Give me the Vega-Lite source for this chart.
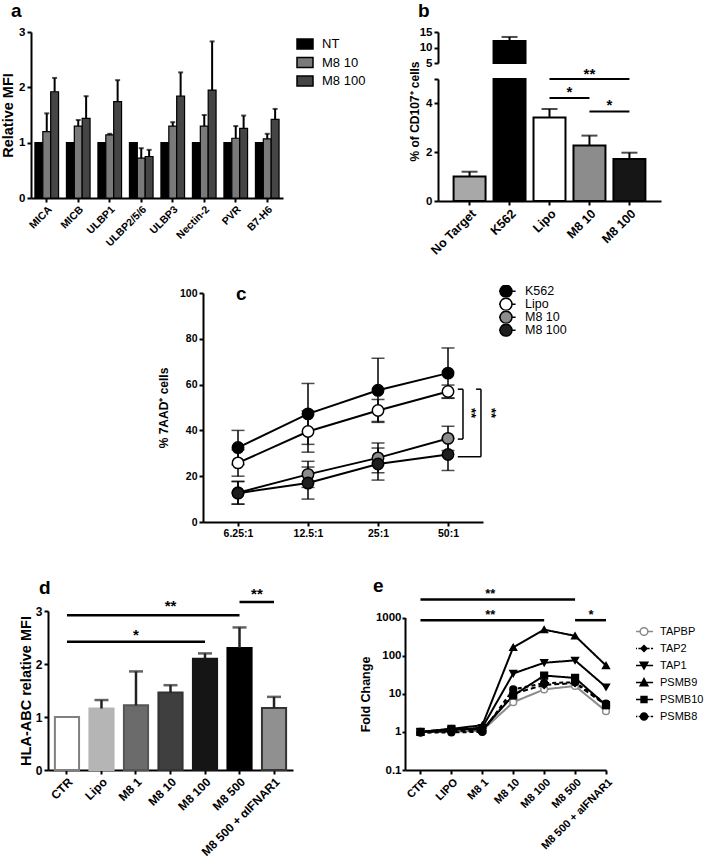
{
 "$schema": "https://vega.github.io/schema/vega-lite/v6.json",
 "padding": {"left": 0, "top": 2, "right": 2, "bottom": 2},
 "background": "white",
 "config": {
  "view": {"stroke": null},
  "font": "Liberation Sans",
  "axis": {"domainColor": "black", "domainWidth": 2, "tickColor": "black", "tickWidth": 2, "tickSize": 4, "labelColor": "black", "labelFontWeight": "bold", "labelFontSize": 11, "labelPadding": 2, "titleColor": "black", "titleFontWeight": "bold", "titleFontSize": 13, "grid": false},
  "legend": {"labelColor": "black", "labelFontSize": 13, "labelFont": "Liberation Sans"},
  "title": {"color": "black", "fontWeight": "bold", "fontSize": 19, "anchor": "start", "frame": "group", "font": "Liberation Sans"}
 },
 "datasets": {
  "a": [
   {"gene":"MICA","cond":"NT","v":1.0},{"gene":"MICA","cond":"M8 10","v":1.2,"e":1.53},{"gene":"MICA","cond":"M8 100","v":1.92,"e":2.17},
   {"gene":"MICB","cond":"NT","v":1.0},{"gene":"MICB","cond":"M8 10","v":1.3,"e":1.41},{"gene":"MICB","cond":"M8 100","v":1.44,"e":1.84},
   {"gene":"ULBP1","cond":"NT","v":1.0},{"gene":"ULBP1","cond":"M8 10","v":1.14,"e":1.16},{"gene":"ULBP1","cond":"M8 100","v":1.74,"e":2.13},
   {"gene":"ULBP2/5/6","cond":"NT","v":1.0},{"gene":"ULBP2/5/6","cond":"M8 10","v":0.72,"e":0.9},{"gene":"ULBP2/5/6","cond":"M8 100","v":0.75,"e":0.87},
   {"gene":"ULBP3","cond":"NT","v":1.0},{"gene":"ULBP3","cond":"M8 10","v":1.3,"e":1.37},{"gene":"ULBP3","cond":"M8 100","v":1.84,"e":2.27},
   {"gene":"Nectin-2","cond":"NT","v":1.0},{"gene":"Nectin-2","cond":"M8 10","v":1.3,"e":1.5},{"gene":"Nectin-2","cond":"M8 100","v":1.95,"e":2.83},
   {"gene":"PVR","cond":"NT","v":1.0},{"gene":"PVR","cond":"M8 10","v":1.08,"e":1.3},{"gene":"PVR","cond":"M8 100","v":1.26,"e":1.49},
   {"gene":"B7-H6","cond":"NT","v":1.0},{"gene":"B7-H6","cond":"M8 10","v":1.07,"e":1.16},{"gene":"B7-H6","cond":"M8 100","v":1.42,"e":1.61}
  ],
  "b": [
   {"cat":"No Target","v":1.0,"hi":1.2},{"cat":"K562","v":12.1,"hi":13.4},{"cat":"Lipo","v":3.42,"hi":3.77},{"cat":"M8 10","v":2.27,"hi":2.68},{"cat":"M8 100","v":1.72,"hi":1.98}
  ],
  "bsig": [{"from":"Lipo","to":"M8 100","y":5.05},{"from":"Lipo","to":"M8 10","y":4.22},{"from":"M8 10","to":"M8 100","y":3.67}],
  "bstar2": [{"at":"M8 10","y":5.1,"t":"**"}],
  "bstar1": [{"at":"Lipo","y":4.27,"t":"*"},{"at":"M8 10","y":3.72,"t":"*"}],
  "c": [
   {"s":"K562","et":6.25,"m":32.5,"lo":25,"hi":40},{"s":"K562","et":12.5,"m":47.2,"lo":33.9,"hi":60.5},{"s":"K562","et":25,"m":57.5,"lo":43.5,"hi":71.5},{"s":"K562","et":50,"m":65,"lo":54,"hi":76},
   {"s":"Lipo","et":6.25,"m":25.8,"lo":20,"hi":31.6},{"s":"Lipo","et":12.5,"m":39.5,"lo":30.5,"hi":48.5},{"s":"Lipo","et":25,"m":48.7,"lo":43.9,"hi":53.5},{"s":"Lipo","et":50,"m":57,"lo":54.2,"hi":59.8},
   {"s":"M8 10","et":6.25,"m":12.8,"lo":7.8,"hi":17.8},{"s":"M8 10","et":12.5,"m":20.8,"lo":15.1,"hi":26.5},{"s":"M8 10","et":25,"m":28,"lo":21.5,"hi":34.5},{"s":"M8 10","et":50,"m":36.5,"lo":31.2,"hi":41.8},
   {"s":"M8 100","et":6.25,"m":12.6,"lo":7.8,"hi":17.6},{"s":"M8 100","et":12.5,"m":17,"lo":10,"hi":24},{"s":"M8 100","et":25,"m":25.3,"lo":18.3,"hi":32.3},{"s":"M8 100","et":50,"m":29.5,"lo":22.5,"hi":36.5}
  ],
  "cbr": [
   {"x":55.1,"x2":58.0,"y":58,"y2":58},{"x":58.0,"x2":58.0,"y":58,"y2":36.2},{"x":55.1,"x2":58.0,"y":36.2,"y2":36.2},
   {"x":66.0,"x2":69.3,"y":58,"y2":58},{"x":69.3,"x2":69.3,"y":58,"y2":28.5},{"x":55.1,"x2":69.3,"y":28.5,"y2":28.5}
  ],
  "cstar": [{"x":62.5,"y":47.6,"t":"**"},{"x":76.5,"y":47.6,"t":"**"}],
  "d": [
   {"cat":"CTR","v":1.0},{"cat":"Lipo","v":1.16,"hi":1.32},{"cat":"M8 1","v":1.22,"hi":1.86},{"cat":"M8 10","v":1.46,"hi":1.6},{"cat":"M8 100","v":2.1,"hi":2.2},{"cat":"M8 500","v":2.3,"hi":2.69},{"cat":"M8 500 + αIFNAR1","v":1.17,"hi":1.38}
  ],
  "dsig": [{"from":"CTR","to":"M8 100","y":2.42},{"from":"CTR","to":"M8 500","y":2.92},{"from":"M8 500","to":"M8 500 + αIFNAR1","y":3.17}],
  "dstar": [{"at":"M8 1","y":2.46,"t":"*"},{"at":"M8 10","y":3.0,"t":"**"}],
  "dstar2": [{"at":"M8 500","y":3.22,"t":"**"}],
  "e": [
   {"g":"TAPBP","cond":"CTR","v":1.0},{"g":"TAPBP","cond":"LIPO","v":1.0},{"g":"TAPBP","cond":"M8 1","v":1.08},{"g":"TAPBP","cond":"M8 10","v":6},{"g":"TAPBP","cond":"M8 100","v":13},{"g":"TAPBP","cond":"M8 500","v":16},{"g":"TAPBP","cond":"M8 500 + aIFNAR1","v":3.5},
   {"g":"TAP2","cond":"CTR","v":0.98},{"g":"TAP2","cond":"LIPO","v":1.05},{"g":"TAP2","cond":"M8 1","v":1.1},{"g":"TAP2","cond":"M8 10","v":10},{"g":"TAP2","cond":"M8 100","v":17},{"g":"TAP2","cond":"M8 500","v":19},{"g":"TAP2","cond":"M8 500 + aIFNAR1","v":5},
   {"g":"TAP1","cond":"CTR","v":1.0},{"g":"TAP1","cond":"LIPO","v":1.1},{"g":"TAP1","cond":"M8 1","v":1.3},{"g":"TAP1","cond":"M8 10","v":34},{"g":"TAP1","cond":"M8 100","v":65},{"g":"TAP1","cond":"M8 500","v":75},{"g":"TAP1","cond":"M8 500 + aIFNAR1","v":15},
   {"g":"PSMB9","cond":"CTR","v":1.0},{"g":"PSMB9","cond":"LIPO","v":1.2},{"g":"PSMB9","cond":"M8 1","v":1.5},{"g":"PSMB9","cond":"M8 10","v":165},{"g":"PSMB9","cond":"M8 100","v":480},{"g":"PSMB9","cond":"M8 500","v":330},{"g":"PSMB9","cond":"M8 500 + aIFNAR1","v":55},
   {"g":"PSMB10","cond":"CTR","v":1.0},{"g":"PSMB10","cond":"LIPO","v":1.2},{"g":"PSMB10","cond":"M8 1","v":1.15},{"g":"PSMB10","cond":"M8 10","v":9},{"g":"PSMB10","cond":"M8 100","v":30},{"g":"PSMB10","cond":"M8 500","v":26},{"g":"PSMB10","cond":"M8 500 + aIFNAR1","v":5},
   {"g":"PSMB8","cond":"CTR","v":0.95},{"g":"PSMB8","cond":"LIPO","v":0.97},{"g":"PSMB8","cond":"M8 1","v":1.0},{"g":"PSMB8","cond":"M8 10","v":13},{"g":"PSMB8","cond":"M8 100","v":19},{"g":"PSMB8","cond":"M8 500","v":20},{"g":"PSMB8","cond":"M8 500 + aIFNAR1","v":5.5}
  ],
  "esig": [{"from":"CTR","to":"M8 500","y":2960},{"from":"CTR","to":"M8 100","y":850},{"from":"M8 500","to":"M8 500 + aIFNAR1","y":850}],
  "estar": [{"at":"M8 1","y":3300,"t":"**"},{"at":"M8 1","y":900,"t":"**"}],
  "estar2": [{"at":"M8 500","y":900,"t":"*"}]
 },
 "spacing": 0,
 "resolve": {"scale": {"fill": "independent", "stroke": "independent", "shape": "independent", "strokeDash": "independent"}},
 "vconcat": [
  {
   "hconcat": [
    {
     "title": {"text": "a", "dx": -20, "offset": 5},
     "width": 252, "height": 166,
     "data": {"name": "a"},
     "encoding": {
      "x": {"field": "gene", "type": "nominal", "scale": {"domain": ["MICA","MICB","ULBP1","ULBP2/5/6","ULBP3","Nectin-2","PVR","B7-H6"], "paddingInner": 0.25, "paddingOuter": 0.125}, "axis": {"title": null, "labelAngle": -45, "labelFontSize": 10.5}},
      "xOffset": {"field": "cond", "type": "nominal", "scale": {"domain": ["NT","M8 10","M8 100"], "paddingInner": 0, "paddingOuter": 0}}
     },
     "layer": [
      {"mark": {"type": "bar", "stroke": "black", "strokeWidth": 1.2},
       "encoding": {
        "y": {"field": "v", "type": "quantitative", "scale": {"domain": [0, 3], "nice": false}, "axis": {"values": [0,1,2,3], "format": "d", "title": "Relative MFI", "titleFontSize": 14.5, "titlePadding": 3, "labelFontSize": 11.5}},
        "fill": {"field": "cond", "type": "nominal", "scale": {"domain": ["NT","M8 10","M8 100"], "range": ["#000000","#7a7a7a","#454545"]},
                 "legend": {"title": null, "orient": "none", "legendX": 265, "legendY": 3, "symbolType": "M-1,-0.62H1V0.62H-1Z", "symbolSize": 256, "symbolStrokeColor": "black", "symbolStrokeWidth": 1.5, "labelOffset": 8, "rowPadding": 1.5, "labelFontSize": 13}}
       }},
      {"transform": [{"filter": "datum.cond != 'NT'"}], "mark": {"type": "rule", "color": "black", "strokeWidth": 2},
       "encoding": {"y": {"field": "v", "type": "quantitative"}, "y2": {"field": "e"}}},
      {"transform": [{"filter": "datum.cond != 'NT'"}], "mark": {"type": "tick", "color": "black", "thickness": 2, "size": 5},
       "encoding": {"y": {"field": "e", "type": "quantitative"}}}
     ]
    },
    {
     "title": {"text": "b", "dx": -20, "offset": 5},
     "width": 223, "height": 169,
     "encoding": {"x": {"field": "cat", "type": "nominal", "scale": {"domain": ["No Target","K562","Lipo","M8 10","M8 100"], "paddingInner": 0.2, "paddingOuter": 0.39}, "axis": {"title": null, "labelAngle": -45, "labelFontSize": 12.5}}},
     "layer": [
      {
       "encoding": {"y": {"field": "v", "type": "quantitative", "scale": {"domain": [0, 5], "range": [169, 47], "nice": false, "clamp": true}, "axis": {"values": [0,2,4,5], "labelExpr": "datum.value == 5 ? '' : datum.label", "title": "% of CD107⁺ cells", "titleY": 79, "titleFontSize": 12, "labelFontSize": 11.5}}},
       "layer": [
        {"data": {"name": "b"}, "mark": {"type": "bar", "stroke": "black", "strokeWidth": 2},
         "encoding": {"fill": {"field": "cat", "type": "nominal", "scale": {"domain": ["No Target","K562","Lipo","M8 10","M8 100"], "range": ["#a8a8a8","#000000","#ffffff","#8c8c8c","#161616"]}, "legend": null}}},
        {"data": {"name": "b"}, "transform": [{"filter": "datum.v < 5"}], "mark": {"type": "rule", "color": "black", "strokeWidth": 2}, "encoding": {"y2": {"field": "hi"}}},
        {"data": {"name": "b"}, "transform": [{"filter": "datum.v < 5"}], "mark": {"type": "tick", "color": "black", "thickness": 2, "size": 16}, "encoding": {"y": {"field": "hi", "type": "quantitative"}}},
        {"data": {"name": "bsig"}, "mark": {"type": "rule", "color": "black", "strokeWidth": 2},
         "encoding": {"x": {"field": "from", "type": "nominal"}, "x2": {"field": "to"}, "y": {"field": "y", "type": "quantitative"}}},
        {"data": {"name": "bstar2"}, "mark": {"type": "text", "fontSize": 15, "fontWeight": "bold", "baseline": "alphabetic", "color": "black"},
         "encoding": {"x": {"field": "at", "type": "nominal", "bandPosition": 0.5}, "y": {"field": "y", "type": "quantitative"}, "text": {"field": "t"}}},
        {"data": {"name": "bstar1"}, "mark": {"type": "text", "fontSize": 15, "fontWeight": "bold", "baseline": "alphabetic", "color": "black"},
         "encoding": {"x": {"field": "at", "type": "nominal", "bandPosition": 1.125}, "y": {"field": "y", "type": "quantitative"}, "text": {"field": "t"}}}
       ]
      },
      {
       "data": {"name": "b"},
       "transform": [{"filter": "datum.v > 5"}],
       "encoding": {"y": {"field": "v", "type": "quantitative", "scale": {"domain": [5, 15], "range": [31, 0], "nice": false, "zero": false, "clamp": true}, "axis": {"orient": "left", "values": [5,10,15], "title": null, "labelFontSize": 11.5}}},
       "layer": [
        {"mark": {"type": "bar", "stroke": "black", "strokeWidth": 2, "color": "#000000"}, "encoding": {"y2": {"datum": 5}}},
        {"mark": {"type": "rule", "color": "black", "strokeWidth": 2}, "encoding": {"y2": {"field": "hi"}}},
        {"mark": {"type": "tick", "color": "black", "thickness": 2, "size": 16}, "encoding": {"y": {"field": "hi", "type": "quantitative"}}}
       ]
      }
     ],
     "resolve": {"scale": {"y": "independent"}}
    }
   ],
   "spacing": 155,
   "bounds": "flush",
   "resolve": {"scale": {"fill": "independent", "stroke": "independent"}}
  },
  {"width": 1, "height": 28, "data": {"values": []}, "mark": "point"},
  {
   "hconcat": [
    {"width": 1, "height": 1, "data": {"values": []}, "mark": "point"},
    {
     "title": {"text": "c", "dx": 33, "dy": 19, "offset": 0},
     "width": 280, "height": 229,
     "encoding": {
      "x": {"field": "et", "type": "quantitative", "scale": {"type": "log", "base": 2, "domain": [4.419, 70.71], "nice": false}, "axis": {"values": [6.25,12.5,25,50], "labelExpr": "datum.value + ':1'", "title": null, "labelFontSize": 10.5}},
      "y": {"field": "m", "type": "quantitative", "scale": {"domain": [0, 100], "nice": false}, "axis": {"values": [0,20,40,60,80,100], "format": "d", "title": "% 7AAD⁺ cells", "titlePadding": 9, "titleFontSize": 12, "labelFontSize": 10.5}}
     },
     "layer": [
      {"data": {"name": "c"}, "mark": {"type": "line", "color": "black", "strokeWidth": 2}, "encoding": {"detail": {"field": "s"}}},
      {"data": {"name": "c"}, "mark": {"type": "rule", "color": "black", "strokeWidth": 1.5}, "encoding": {"y": {"field": "lo", "type": "quantitative"}, "y2": {"field": "hi"}}},
      {"data": {"name": "c"}, "mark": {"type": "tick", "orient": "horizontal", "color": "black", "thickness": 1.5, "size": 13}, "encoding": {"y": {"field": "hi", "type": "quantitative"}}},
      {"data": {"name": "c"}, "mark": {"type": "tick", "orient": "horizontal", "color": "black", "thickness": 1.5, "size": 13}, "encoding": {"y": {"field": "lo", "type": "quantitative"}}},
      {"data": {"name": "c"}, "mark": {"type": "point", "filled": true, "shape": "circle", "size": 130, "stroke": "black", "strokeWidth": 1.5, "opacity": 1},
       "encoding": {"fill": {"field": "s", "type": "nominal", "scale": {"domain": ["K562","Lipo","M8 10","M8 100"], "range": ["#000000","#ffffff","#8c8c8c","#1e1e1e"]}, "legend": null}}},
      {"data": {"name": "cbr"}, "mark": {"type": "rule", "color": "black", "strokeWidth": 1.5},
       "encoding": {"x": {"field": "x", "type": "quantitative"}, "x2": {"field": "x2"}, "y": {"field": "y", "type": "quantitative"}, "y2": {"field": "y2"}}},
      {"data": {"name": "cstar"}, "mark": {"type": "text", "angle": 90, "fontSize": 13, "fontWeight": "bold", "color": "black"},
       "encoding": {"x": {"field": "x", "type": "quantitative"}, "y": {"field": "y", "type": "quantitative"}, "text": {"field": "t"}}},
      {"data": {"name": "c"}, "transform": [{"filter": "false"}], "mark": {"type": "point", "filled": true, "strokeWidth": 1.5, "opacity": 1},
       "encoding": {
        "shape": {"field": "s", "type": "nominal", "scale": {"domain": ["K562","Lipo","M8 10","M8 100"], "range": ["M-1.6,0H-1M1,0H1.6M-1,0A1,1 0 1,0 1,0A1,1 0 1,0 -1,0Z","M-1.6,0H-1M1,0H1.6M-1,0A1,1 0 1,0 1,0A1,1 0 1,0 -1,0Z","M-1.6,0H-1M1,0H1.6M-1,0A1,1 0 1,0 1,0A1,1 0 1,0 -1,0Z","M-1.6,0H-1M1,0H1.6M-1,0A1,1 0 1,0 1,0A1,1 0 1,0 -1,0Z"]},
                  "legend": {"title": null, "orient": "none", "legendX": 296, "legendY": -8, "symbolSize": 144, "labelOffset": 12, "rowPadding": 0, "clipHeight": 12.5, "labelFontSize": 12.5, "symbolStrokeWidth": 1.5}},
        "fill": {"field": "s", "type": "nominal", "scale": {"domain": ["K562","Lipo","M8 10","M8 100"], "range": ["#000000","#ffffff","#8c8c8c","#1e1e1e"]},
                 "legend": {"title": null, "orient": "none", "legendX": 296, "legendY": -8, "symbolSize": 144, "labelOffset": 12, "rowPadding": 0, "clipHeight": 12.5, "labelFontSize": 12.5, "symbolStrokeWidth": 1.5}},
        "stroke": {"field": "s", "type": "nominal", "scale": {"domain": ["K562","Lipo","M8 10","M8 100"], "range": ["#000000","#000000","#000000","#000000"]},
                 "legend": {"title": null, "orient": "none", "legendX": 296, "legendY": -8, "symbolSize": 144, "labelOffset": 12, "rowPadding": 0, "clipHeight": 12.5, "labelFontSize": 12.5, "symbolStrokeWidth": 1.5}}
       }}
     ],
     "resolve": {"scale": {"fill": "independent", "shape": "independent", "stroke": "independent"}}
    }
   ],
   "spacing": 171,
   "bounds": "flush"
  },
  {"width": 1, "height": 37, "data": {"values": []}, "mark": "point"},
  {
   "hconcat": [
    {"width": 1, "height": 1, "data": {"values": []}, "mark": "point"},
    {
     "hconcat": [
      {
       "title": {"text": "d", "dx": -9, "dy": 13, "offset": 2},
       "width": 245, "height": 159,
       "encoding": {"x": {"field": "cat", "type": "nominal", "scale": {"domain": ["CTR","Lipo","M8 1","M8 10","M8 100","M8 500","M8 500 + αIFNAR1"], "paddingInner": 0.3, "paddingOuter": 0.2}, "axis": {"title": null, "labelAngle": -45, "labelFontSize": 12}}},
       "layer": [
        {"data": {"name": "d"}, "mark": {"type": "bar", "strokeWidth": 2},
         "encoding": {
          "y": {"field": "v", "type": "quantitative", "scale": {"domain": [0, 3], "nice": false}, "axis": {"values": [0,1,2,3], "format": "d", "title": "HLA-ABC relative MFI", "titleFontSize": 14.5, "titlePadding": 2, "labelFontSize": 12}},
          "fill": {"field": "cat", "type": "nominal", "scale": {"domain": ["CTR","Lipo","M8 1","M8 10","M8 100","M8 500","M8 500 + αIFNAR1"], "range": ["#ffffff","#b5b5b5","#6b6b6b","#3f3f3f","#151515","#000000","#909090"]}, "legend": null},
          "stroke": {"field": "cat", "type": "nominal", "scale": {"domain": ["CTR","Lipo","M8 1","M8 10","M8 100","M8 500","M8 500 + αIFNAR1"], "range": ["#808080","#b5b5b5","#555555","#333333","#151515","#000000","#333333"]}, "legend": null}
         }},
        {"data": {"name": "d"}, "transform": [{"filter": "isValid(datum.hi)"}], "mark": {"type": "rule", "color": "#222222", "strokeWidth": 2.5}, "encoding": {"y": {"field": "v", "type": "quantitative"}, "y2": {"field": "hi"}}},
        {"data": {"name": "d"}, "transform": [{"filter": "isValid(datum.hi)"}], "mark": {"type": "tick", "color": "#222222", "thickness": 2.5, "size": 14}, "encoding": {"y": {"field": "hi", "type": "quantitative"}}},
        {"data": {"name": "dsig"}, "mark": {"type": "rule", "color": "black", "strokeWidth": 2.5},
         "encoding": {"x": {"field": "from", "type": "nominal"}, "x2": {"field": "to"}, "y": {"field": "y", "type": "quantitative"}}},
        {"data": {"name": "dstar"}, "mark": {"type": "text", "fontSize": 15, "fontWeight": "bold", "baseline": "alphabetic", "color": "black"},
         "encoding": {"x": {"field": "at", "type": "nominal", "bandPosition": 0.5}, "y": {"field": "y", "type": "quantitative"}, "text": {"field": "t"}}},
        {"data": {"name": "dstar2"}, "mark": {"type": "text", "fontSize": 15, "fontWeight": "bold", "baseline": "alphabetic", "color": "black"},
         "encoding": {"x": {"field": "at", "type": "nominal", "bandPosition": 1.22}, "y": {"field": "y", "type": "quantitative"}, "text": {"field": "t"}}}
       ]
      },
      {
       "title": {"text": "e", "frame": "bounds", "dx": 14, "dy": 8, "offset": 0},
       "width": 201, "height": 159,
       "encoding": {
        "x": {"field": "cond", "type": "nominal", "scale": {"type": "point", "domain": ["CTR","LIPO","M8 1","M8 10","M8 100","M8 500","M8 500 + aIFNAR1"], "padding": 0.25, "align": 1}, "axis": {"title": null, "labelAngle": -45, "labelFontSize": 11}},
        "y": {"field": "v", "type": "quantitative", "scale": {"type": "log", "domain": [0.1, 1000], "range": [159, 6.5], "nice": false}, "axis": {"values": [0.1,1,10,100,1000], "format": "~g", "title": "Fold Change", "titleX": -33, "titleY": 83, "titleFontSize": 12.5, "tickSize": 3, "labelFontSize": 11.5, "labelPadding": 1}}
       },
       "layer": [
        {"data": {"name": "e"}, "mark": {"type": "line", "strokeWidth": 2},
         "encoding": {
          "stroke": {"field": "g", "type": "nominal", "scale": {"domain": ["TAPBP","TAP2","TAP1","PSMB9","PSMB10","PSMB8"], "range": ["#8a8a8a","#000000","#000000","#000000","#000000","#000000"]}, "legend": null},
          "strokeDash": {"field": "g", "type": "nominal", "scale": {"domain": ["TAPBP","TAP2","TAP1","PSMB9","PSMB10","PSMB8"], "range": [[1,0],[5,3],[1,0],[1,0],[1,0],[4,3]]}, "legend": null}
         }},
        {"data": {"name": "e"}, "mark": {"type": "point", "filled": true, "size": 45, "strokeWidth": 1.5, "opacity": 1},
         "encoding": {
          "shape": {"field": "g", "type": "nominal", "scale": {"domain": ["TAPBP","TAP2","TAP1","PSMB9","PSMB10","PSMB8"], "range": ["circle","diamond","triangle-down","triangle-up","square","circle"]}, "legend": null},
          "fill": {"field": "g", "type": "nominal", "scale": {"domain": ["TAPBP","TAP2","TAP1","PSMB9","PSMB10","PSMB8"], "range": ["#ffffff","#000000","#000000","#000000","#000000","#000000"]}, "legend": null},
          "stroke": {"field": "g", "type": "nominal", "scale": {"domain": ["TAPBP","TAP2","TAP1","PSMB9","PSMB10","PSMB8"], "range": ["#8a8a8a","#000000","#000000","#000000","#000000","#000000"]}, "legend": null}
         }},
        {"data": {"name": "esig"}, "mark": {"type": "rule", "color": "black", "strokeWidth": 2.5},
         "encoding": {"x": {"field": "from", "type": "nominal"}, "x2": {"field": "to"}, "y": {"field": "y", "type": "quantitative"}}},
        {"data": {"name": "estar"}, "mark": {"type": "text", "fontSize": 13, "fontWeight": "bold", "baseline": "alphabetic", "dx": 8, "color": "black"},
         "encoding": {"x": {"field": "at", "type": "nominal"}, "y": {"field": "y", "type": "quantitative"}, "text": {"field": "t"}}},
        {"data": {"name": "estar2"}, "mark": {"type": "text", "fontSize": 13, "fontWeight": "bold", "baseline": "alphabetic", "dx": 16, "color": "black"},
         "encoding": {"x": {"field": "at", "type": "nominal"}, "y": {"field": "y", "type": "quantitative"}, "text": {"field": "t"}}},
        {"data": {"name": "e"}, "transform": [{"filter": "false"}], "mark": {"type": "point", "filled": true, "strokeWidth": 1.5, "opacity": 1},
         "encoding": {
          "shape": {"field": "g", "type": "nominal", "scale": {"domain": ["TAPBP","TAP2","TAP1","PSMB9","PSMB10","PSMB8"], "range": [
            "M-1.3,0H-0.55M0.55,0H1.3M-0.55,0A0.55,0.55 0 1,0 0.55,0A0.55,0.55 0 1,0 -0.55,0Z",
            "M-1.3,0H-1M-0.8,0H-0.45M0.45,0H0.8M1,0H1.3M0,-0.42L0.42,0L0,0.42L-0.42,0Z",
            "M-1.3,0H1.3M-0.55,-0.45L0.55,-0.45L0,0.5Z",
            "M-1.3,0H1.3M-0.55,0.45L0.55,0.45L0,-0.55Z",
            "M-1.3,0H1.3M-0.42,-0.42H0.42V0.42H-0.42Z",
            "M-1.3,0H-0.95M-0.75,0H-0.5M0.5,0H0.75M0.95,0H1.3M-0.5,0A0.5,0.5 0 1,0 0.5,0A0.5,0.5 0 1,0 -0.5,0Z"]},
           "legend": {"title": null, "orient": "none", "legendX": 231, "legendY": 13, "symbolSize": 196, "labelOffset": 8, "rowPadding": 2, "clipHeight": 15, "labelFontSize": 11, "symbolStrokeWidth": 1.5}},
          "fill": {"field": "g", "type": "nominal", "scale": {"domain": ["TAPBP","TAP2","TAP1","PSMB9","PSMB10","PSMB8"], "range": ["#ffffff","#000000","#000000","#000000","#000000","#000000"]},
           "legend": {"title": null, "orient": "none", "legendX": 231, "legendY": 13, "symbolSize": 196, "labelOffset": 8, "rowPadding": 2, "clipHeight": 15, "labelFontSize": 11, "symbolStrokeWidth": 1.5}},
          "stroke": {"field": "g", "type": "nominal", "scale": {"domain": ["TAPBP","TAP2","TAP1","PSMB9","PSMB10","PSMB8"], "range": ["#8a8a8a","#000000","#000000","#000000","#000000","#000000"]},
           "legend": {"title": null, "orient": "none", "legendX": 231, "legendY": 13, "symbolSize": 196, "labelOffset": 8, "rowPadding": 2, "clipHeight": 15, "labelFontSize": 11, "symbolStrokeWidth": 1.5}}
         }}
       ],
       "resolve": {"scale": {"shape": "independent", "fill": "independent", "stroke": "independent", "strokeDash": "independent"}}
      }
     ],
     "spacing": 112,
     "bounds": "flush",
     "resolve": {"scale": {"fill": "independent", "stroke": "independent", "shape": "independent", "strokeDash": "independent"}}
    }
   ],
   "spacing": 16,
   "bounds": "flush"
  }
 ]
}
